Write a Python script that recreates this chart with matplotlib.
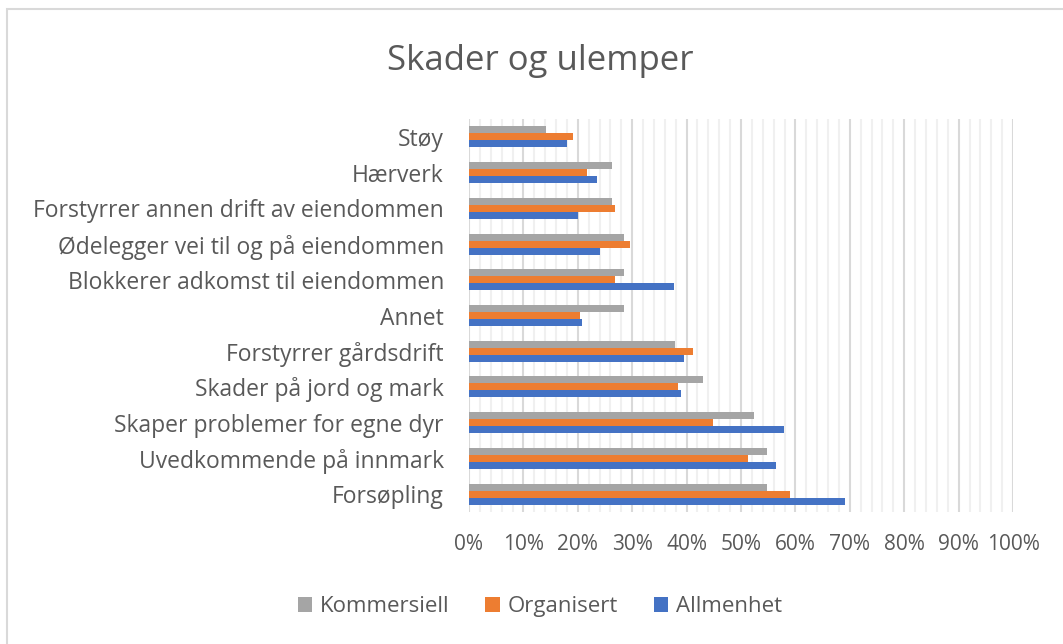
import numpy as np
import matplotlib.pyplot as plt
import matplotlib.ticker as ticker
from matplotlib.patches import Rectangle

# data (in %)
categories = ['Støy', 'Hærverk', 'Forstyrrer annen drift av eiendommen',
              'Ødelegger vei til og på eiendommen', 'Blokkerer adkomst til eiendommen',
              'Annet', 'Forstyrrer gårdsdrift', 'Skader på jord og mark',
              'Skaper problemer for egne dyr', 'Uvedkommende på innmark', 'Forsøpling']
kommersiell = [14.1, 26.2, 26.2, 28.5, 28.5, 28.5, 37.9, 43.0, 52.4, 54.8, 54.8]
organisert = [19.1, 21.7, 26.9, 29.6, 26.9, 20.4, 41.1, 38.5, 44.8, 51.3, 59.0]
allmenhet = [18.0, 23.6, 20.1, 24.1, 37.7, 20.7, 39.5, 39.0, 57.9, 56.4, 69.2]
series_names = ['Kommersiell', 'Organisert', 'Allmenhet']
colors = ['#A5A5A5', '#ED7D31', '#4472C4']

txt = '#595959'
plt.rcParams['font.family'] = ['Open Sans', 'DejaVu Sans']

fig = plt.figure(figsize=(10.63, 6.44), dpi=100)
ax = fig.add_axes([0.4412, 0.205, 0.5118, 0.610])

# chart border
fig.patches.append(Rectangle((7/1063, -0.1), 1.2, 1 - 9/644 + 0.1, transform=fig.transFigure,
                             fill=False, edgecolor='#d9d9d9', linewidth=1.5, zorder=0))

y = np.arange(len(categories))
h = 0.196
for i, (vals, name, c) in enumerate(zip([kommersiell, organisert, allmenhet], series_names, colors)):
    ax.barh(y + (i - 1) * h, vals, height=h, color=c, label=name, zorder=3)

ax.set_ylim(len(categories) - 0.5, -0.5)
ax.set_xlim(0, 100)
ax.set_yticks(y)
ax.set_yticklabels(categories, fontsize=16.5, color=txt)
ax.xaxis.set_major_locator(ticker.MultipleLocator(10))
ax.xaxis.set_minor_locator(ticker.MultipleLocator(2))
ax.xaxis.set_major_formatter(ticker.FuncFormatter(lambda v, p: f'{v:.0f}%'))
ax.tick_params(axis='x', which='both', length=0, labelsize=15, colors=txt, pad=16)
ax.tick_params(axis='y', length=0, pad=18)
ax.grid(axis='x', which='major', color='#d9d9d9', linewidth=1.5, zorder=0)
ax.grid(axis='x', which='minor', color='#f0f0f0', linewidth=1.5, zorder=0)
for s in ax.spines.values():
    s.set_visible(False)
ax.set_axisbelow(True)

fig.text(0.508, 0.905, 'Skader og ulemper', ha='center', va='center', fontsize=25, color=txt)

fig.legend(loc='center', bbox_to_anchor=(0.508, 0.058), ncol=3, frameon=False,
           fontsize=16, labelcolor=txt, handlelength=0.65, handleheight=0.65,
           handletextpad=0.35, columnspacing=1.6)

fig.savefig('out.png', dpi=100)
